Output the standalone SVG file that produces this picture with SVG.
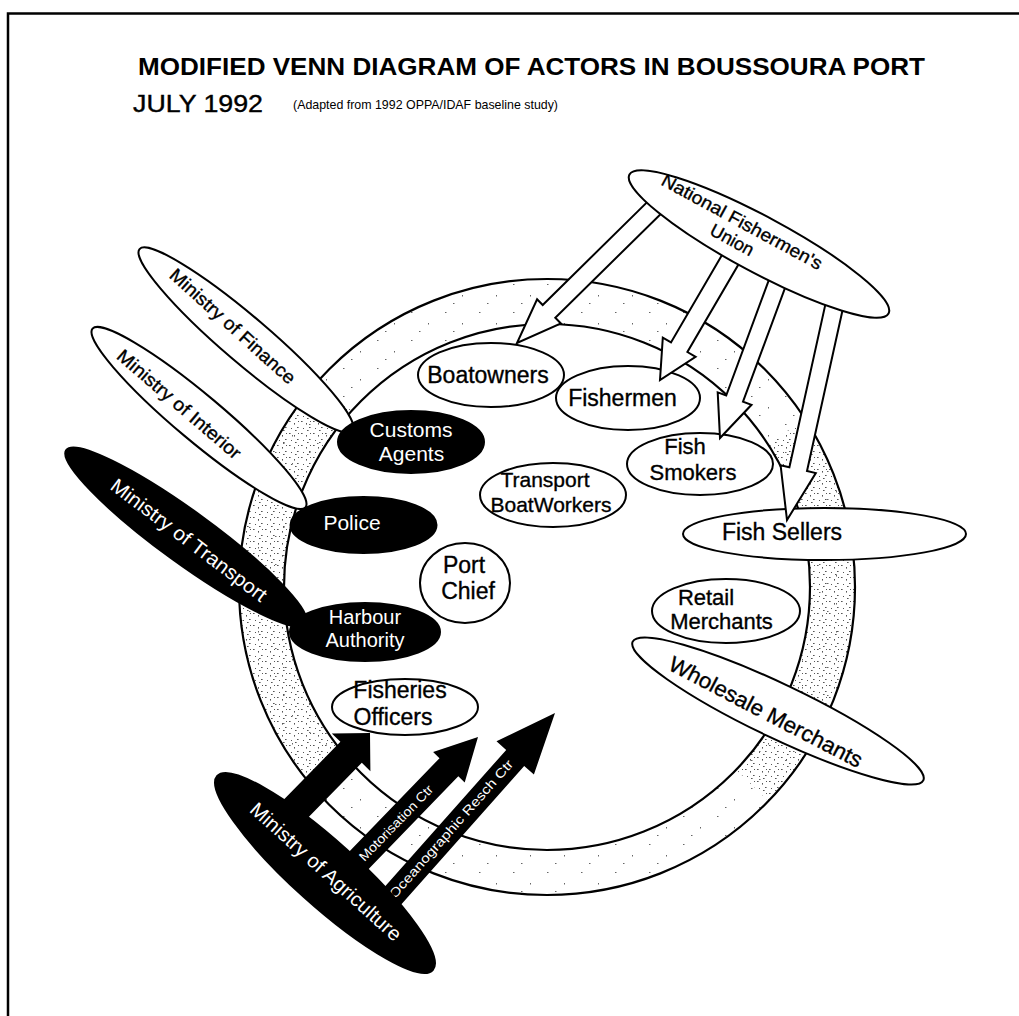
<svg xmlns="http://www.w3.org/2000/svg" width="1019" height="1016" viewBox="0 0 1019 1016">
<defs>
<style>
.ln{fill:#fff;stroke:#000;stroke-width:2}
.bk{fill:#000;stroke:#000;stroke-width:2}
.t{font-family:"Liberation Sans",Arial,sans-serif;font-size:23px;fill:#000;stroke:#000;stroke-width:0.35;text-anchor:middle}
.tw{font-family:"Liberation Sans",Arial,sans-serif;font-size:21px;fill:#fff;text-anchor:middle}
.ua{fill:#fff;stroke:#000;stroke-width:2;stroke-linejoin:miter}
.ba{fill:#000}
.at{font-family:"Liberation Sans",Arial,sans-serif;font-size:13px;fill:#fff;text-anchor:middle}
</style>
<pattern id="dense" width="12" height="12" patternUnits="userSpaceOnUse">
<g fill="#555">
<rect x="1" y="1" width="1.6" height="1"/>
<rect x="6" y="3" width="1" height="1.6"/>
<rect x="9" y="7" width="1.6" height="1"/>
<rect x="3" y="8" width="1" height="1"/>
<rect x="7" y="10" width="1.6" height="1"/>
<rect x="10" y="1" width="1" height="1"/>
</g>
</pattern>
<pattern id="sparse" width="34" height="28" patternUnits="userSpaceOnUse">
<g fill="#666">
<rect x="3" y="4" width="1.5" height="1"/>
<rect x="20" y="15" width="1" height="1.5"/>
<rect x="11" y="23" width="1.5" height="1"/>
</g>
</pattern>
</defs>
<rect width="1019" height="1016" fill="#fff"/>
<path d="M8 1016 V13.5 H1019" fill="none" stroke="#000" stroke-width="2.5"/>

<g id="title">
<text x="138" y="75" font-family="'Liberation Sans',Arial,sans-serif" font-size="24" font-weight="bold" textLength="787" lengthAdjust="spacingAndGlyphs">MODIFIED VENN DIAGRAM OF ACTORS IN BOUSSOURA PORT</text>
<text x="133" y="112" font-family="'Liberation Sans',Arial,sans-serif" font-size="24" stroke="#000" stroke-width="0.4" textLength="130" lengthAdjust="spacingAndGlyphs">JULY 1992</text>
<text x="293" y="109" font-family="'Liberation Sans',Arial,sans-serif" font-size="13" textLength="265" lengthAdjust="spacingAndGlyphs">(Adapted from 1992 OPPA/IDAF baseline study)</text>
</g>

<g id="port-ring">
<circle cx="547" cy="587" r="308" fill="#fff"/>
<path d="M855 587 A308 308 0 1 1 239 587 A308 308 0 1 1 855 587 Z M810 587 A263 263 0 1 0 284 587 A263 263 0 1 0 810 587 Z" fill="url(#sparse)" fill-rule="evenodd"/>
<path d="M307.6 780.8 A308 308 0 0 1 318.1 380.9 L351.6 411 A263 263 0 0 0 342.6 752.5 Z" fill="url(#dense)"/>
<path d="M805.3 419.2 A308 308 0 0 1 768.5 801 L736.2 769.7 A263 263 0 0 0 767.6 443.8 Z" fill="url(#dense)"/>
<circle cx="547" cy="587" r="308" fill="none" stroke="#000" stroke-width="2.2"/>
<circle cx="547" cy="587" r="263" fill="#fff" stroke="#000" stroke-width="2.2"/>
</g>

<g id="ministry-finance">
<ellipse class="ln" cx="246" cy="340" rx="140" ry="23" transform="rotate(40.5 246 340)"/>
<text class="t" transform="translate(232.5 326.5) rotate(42)" y="6" textLength="162" lengthAdjust="spacingAndGlyphs" style="font-size:18.5px">Ministry of Finance</text>
</g>
<g id="ministry-interior">
<ellipse class="ln" cx="199" cy="418" rx="139" ry="23" transform="rotate(40 199 418)"/>
<text class="t" transform="translate(179 404.5) rotate(40.7)" y="6" textLength="157" lengthAdjust="spacingAndGlyphs" style="font-size:18.5px">Ministry of Interior</text>
</g>
<g id="ministry-transport">
<ellipse class="bk" cx="186" cy="537" rx="148" ry="26" transform="rotate(36 186 537)"/>
<text class="tw" transform="translate(189 540) rotate(37)" y="7" textLength="190" lengthAdjust="spacingAndGlyphs" style="font-size:20px">Ministry of Transport</text>
</g>

<g id="wholesale-merchants">
<ellipse class="ln" cx="778" cy="711" rx="161" ry="27" transform="rotate(25.5 778 711)"/>
<text class="t" transform="translate(766 711.5) rotate(27.5)" y="8" textLength="215" lengthAdjust="spacingAndGlyphs" style="font-size:22px">Wholesale Merchants</text>
</g>
<g id="fish-sellers">
<ellipse class="ln" cx="824.5" cy="534" rx="141.5" ry="26"/>
<text class="t" x="782" y="540">Fish Sellers</text>
</g>
<g id="retail-merchants">
<ellipse class="ln" cx="726" cy="611" rx="74" ry="32"/>
<text class="t" x="706" y="605" style="font-size:22px">Retail</text>
<text class="t" x="721.5" y="629" style="font-size:22px">Merchants</text>
</g>
<g id="boatowners">
<ellipse class="ln" cx="491" cy="375" rx="73" ry="32"/>
<text class="t" x="488" y="383">Boatowners</text>
</g>
<g id="fishermen">
<ellipse class="ln" cx="628" cy="398" rx="72" ry="32"/>
<text class="t" x="622.5" y="406">Fishermen</text>
</g>
<g id="fish-smokers">
<ellipse class="ln" cx="700" cy="464" rx="73" ry="31"/>
<text class="t" x="685" y="454" style="font-size:22px">Fish</text>
<text class="t" x="693" y="480" style="font-size:22px">Smokers</text>
</g>
<g id="transport-boatworkers">
<ellipse class="ln" cx="553" cy="495" rx="73" ry="32"/>
<text class="t" x="545" y="487" style="font-size:21px">Transport</text>
<text class="t" x="551" y="512" style="font-size:21px">BoatWorkers</text>
</g>
<g id="port-chief">
<ellipse class="ln" cx="465" cy="583" rx="45" ry="40"/>
<text class="t" x="464" y="573">Port</text>
<text class="t" x="468" y="599">Chief</text>
</g>
<g id="customs-agents">
<ellipse class="bk" cx="411" cy="442" rx="73" ry="31"/>
<text class="tw" x="411" y="437">Customs</text>
<text class="tw" x="411.5" y="461">Agents</text>
</g>
<g id="police">
<ellipse class="bk" cx="363.5" cy="525" rx="73" ry="28"/>
<text class="tw" x="352" y="530">Police</text>
</g>
<g id="harbour-authority">
<ellipse class="bk" cx="365" cy="632" rx="75" ry="29"/>
<text class="tw" x="365" y="624" style="font-size:20px">Harbour</text>
<text class="tw" x="365" y="647" style="font-size:20px">Authority</text>
</g>

<g id="connectors">
<polygon class="ua" points="650.7,198.6 542.7,305 537.1,299.3 517,343 560.9,323.5 555.3,317.8 663.3,211.4"/>
<polygon class="ua" points="724.8,250.2 671,342.4 662.8,337.6 660,380 695.6,356.8 687.4,352 741.2,259.8"/>
<polygon class="ua" points="772.6,269.9 726.2,395.5 717.7,392.4 720,438 751.5,404.8 743,401.7 789.4,276.1"/>
<polygon class="ua" points="827.2,296.1 789.4,467.3 780.6,465.3 787,520 815.8,473.1 807,471.1 844.8,299.9"/>
<polygon class="ba" points="285.7,840.5 361.8,762.8 370.4,771.2 370,733 331.8,733.4 340.4,741.8 264.3,819.5"/>
<polygon class="ba" points="346.4,892 458.3,776.2 464.7,782.5 478,737 433.1,751.9 439.5,758.2 327.6,874"/>
<polygon class="ba" points="383,925 524.2,765.9 533.9,774.5 555,713 496.5,741.3 506.2,749.9 365,909"/>
<text class="at" transform="translate(396 823) rotate(-46)" y="4.5" textLength="100" lengthAdjust="spacingAndGlyphs">Motorisation Ctr</text>
<text class="at" transform="translate(451 829) rotate(-48.5)" y="4.5" textLength="180" lengthAdjust="spacingAndGlyphs">Oceanographic Resch Ctr</text>
</g>

<g id="ministry-agriculture">
<ellipse class="bk" cx="325" cy="873" rx="145" ry="32" transform="rotate(42 325 873)"/>
<text class="tw" transform="translate(326 871.5) rotate(42)" y="7" textLength="196" lengthAdjust="spacingAndGlyphs" style="font-size:20px">Ministry of Agriculture</text>
</g>
<g id="fisheries-officers">
<ellipse class="ln" cx="405" cy="707" rx="73" ry="28"/>
<text class="t" x="400" y="698">Fisheries</text>
<text class="t" x="393" y="725">Officers</text>
</g>
<g id="national-fishermens-union">
<ellipse class="ln" cx="759" cy="244" rx="147" ry="28" transform="rotate(28.2 759 244)"/>
<text class="t" transform="translate(742 222) rotate(28.5)" y="6" textLength="180" lengthAdjust="spacingAndGlyphs" style="font-size:18px">National Fishermen's</text>
<text class="t" transform="translate(732 240) rotate(28.5)" y="6" style="font-size:18px">Union</text>
</g>
</svg>
